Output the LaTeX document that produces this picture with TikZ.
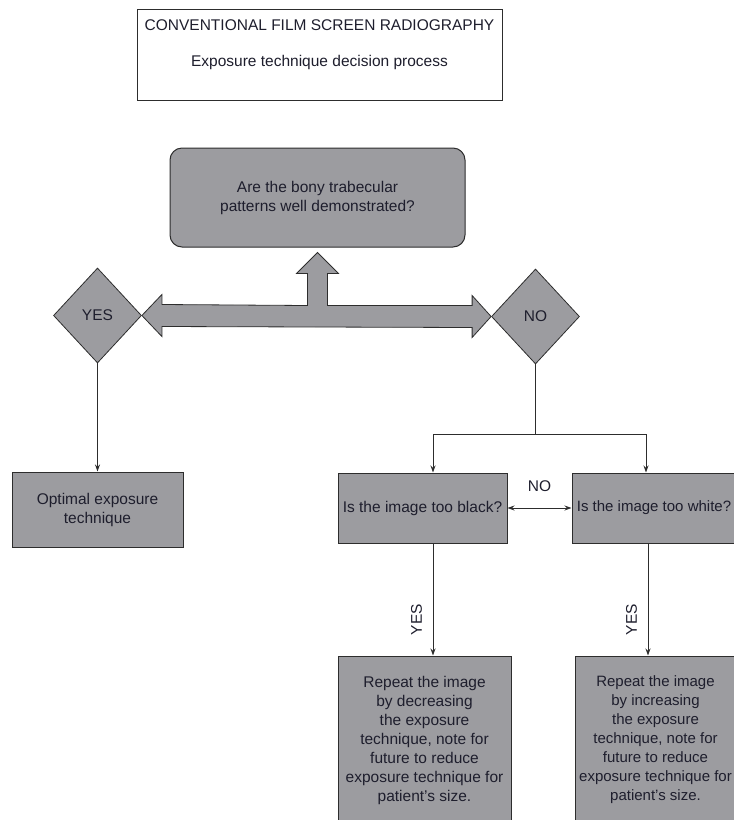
\documentclass[tikz,border=0pt]{standalone}
\usepackage{fontspec}
\setmainfont{Liberation Sans}
\definecolor{rad_fill}{RGB}{156, 156, 160}
\definecolor{rad_line}{RGB}{45, 45, 45}
\definecolor{rad_text}{RGB}{30, 30, 45}
\usetikzlibrary{arrows.meta, positioning, shapes.geometric, calc}

\begin{document}
\begin{tikzpicture}[x=1pt, y=-1pt,
        box/.style={rectangle, draw=rad_line, fill=rad_fill, line width=1pt, text=rad_text,
                    align=center, inner sep=0pt, font=\fontsize{15.5}{19}\selectfont},
        edgebox/.style={box, font=\fontsize{15}{19}\selectfont},
        dec/.style={diamond, draw=rad_line, fill=rad_fill, line width=0.8pt, text=rad_text,
                    inner sep=0pt, minimum width=88pt, minimum height=95pt,
                    font=\fontsize{15.5}{19}\selectfont},
        arr/.style={-{Stealth[length=7pt, width=5pt]}, line width=1pt, color=rad_line},
        link/.style={line width=1pt, color=rad_line},
        fat/.style={draw=rad_line, fill=rad_fill, line width=0.8pt, line join=miter},
        lbl/.style={text=rad_text, inner sep=0pt, font=\fontsize{15.5}{19}\selectfont},
        yeslbl/.style={lbl, rotate=90, anchor=south, outer sep=11pt},
      ]
        \path[use as bounding box] (0,0) rectangle (734,820);
        \clip (0,0) rectangle (734,820);

        % heading
        \node[box, fill=white, minimum width=365pt, minimum height=91pt] (title) at (319.5,54.5) {};
        \node[lbl] (head)    at (319.5,25) {CONVENTIONAL FILM SCREEN RADIOGRAPHY};
        \node[lbl] (subhead) at (319.5,62) {Exposure technique decision process};

        % question and answers
        \node[box, rounded corners=12pt, minimum width=295pt, minimum height=99pt] (q) at (317.5,197.5)
              {Are the bony trabecular\\patterns well demonstrated?};
        \node[dec] (yes) at (97.5,315.5) {YES};
        \node[dec] (no)  at (535.5,316.5) {NO};

        \draw[fat] (yes.east) -- ++(20,-21) -- ++(0,10)
              -- ($(q.south)+(-10,58)$) -- ($(q.south)+(-10,26)$) -- ($(q.south)+(-21,26)$)
              -- ($(q.south)+(0,5)$)
              -- ($(q.south)+(21,26)$) -- ($(q.south)+(10,26)$) -- ($(q.south)+(10,58)$)
              -- ($(no.west)+(-19,-11)$) -- ($(no.west)+(-19,-21)$) -- (no.west)
              -- ($(no.west)+(-19,21)$) -- ($(no.west)+(-19,11)$)
              -- ($(yes.east)+(20,11)$) -- ($(yes.east)+(20,21)$) -- cycle;

        % checks on the film
        \node[box, minimum width=171pt, minimum height=75pt] (opt)   at (97.5,509.5) {Optimal exposure\\technique};
        \node[box, minimum width=169pt, minimum height=70pt] (black) at (422.5,508) {Is the image too black?};
        \node[edgebox, minimum width=164pt, minimum height=70pt] (white) at (654,508) {Is the image too white?};
        \node[box, minimum width=173pt, minimum height=168pt] (rep1) at (424.5,740)
              {Repeat the image\\by decreasing\\the exposure\\technique, note for\\future to reduce\\exposure technique for\\patient's size.};
        \node[edgebox, minimum width=161pt, minimum height=168pt] (rep2) at (655.5,740)
              {Repeat the image\\by increasing\\the exposure\\technique, note for\\future to reduce\\exposure technique for\\patient's size.};

        \coordinate[below=70pt of no.south] (split);

        \draw[arr] (yes.south) -- (opt.north);
        \draw[link] (no.south) -- (split);
        \draw[arr] (split) -| ([xshift=10.5pt]black.north);
        \draw[arr] (split) -| ([xshift=-8pt]white.north);
        \draw[{Stealth[length=7pt, width=5pt]}-{Stealth[length=7pt, width=5pt]}, link]
              (black.east) -- node[lbl, above=16pt] {NO} (white.west);
        \draw[arr] ([xshift=10.5pt]black.south) -- ([xshift=10.5pt]black.south |- rep1.north)
              node[yeslbl, pos=0.68] {YES};
        \draw[arr] ([xshift=-6pt]white.south) -- ([xshift=-6pt]white.south |- rep2.north)
              node[yeslbl, pos=0.68] {YES};
      \end{tikzpicture}
\end{document}
